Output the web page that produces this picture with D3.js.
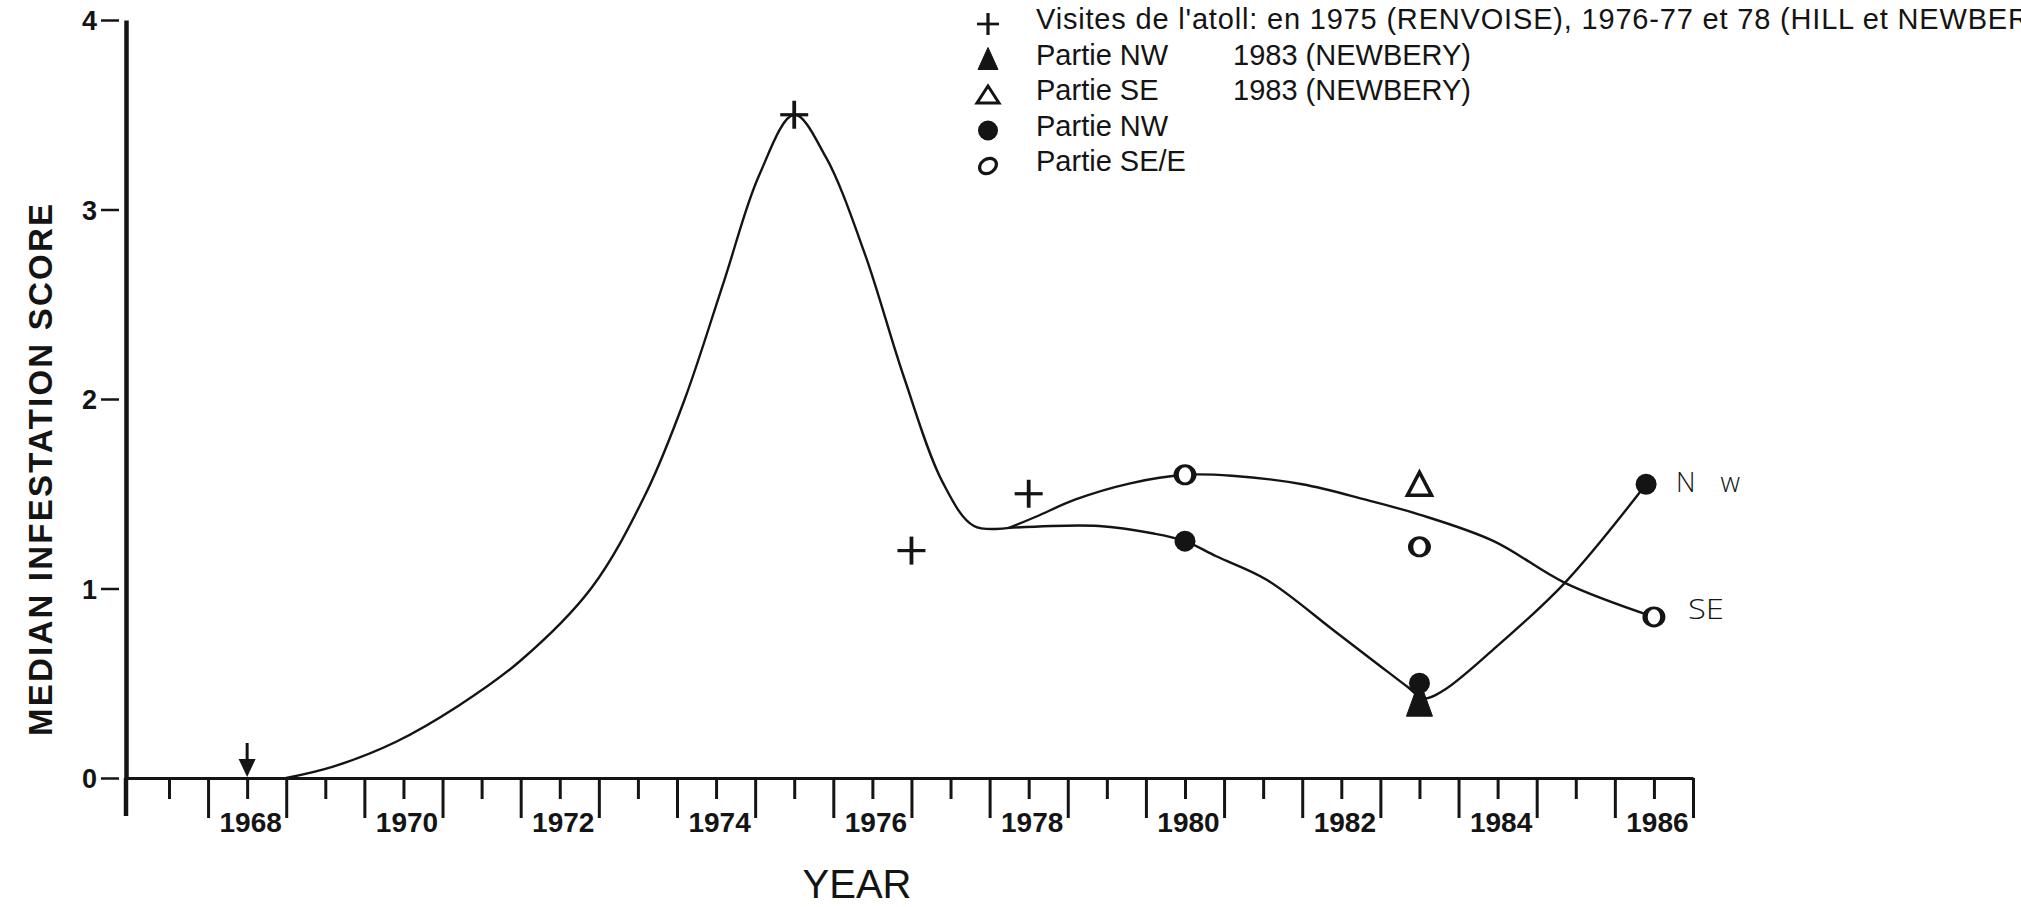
<!DOCTYPE html>
<html>
<head>
<meta charset="utf-8">
<script src="https://cdn.jsdelivr.net/npm/d3@7"></script>
<style>
  html, body { margin: 0; padding: 0; background: #fff; }
  svg { display: block; }
</style>
</head>
<body>
<svg id="chart" width="2021" height="907"></svg>
<script>
// ---- Observations -------------------------------------------------------
// Visits to the atoll (+)
const visitYears  = [1975, 1976.5, 1978];
const visitScores = [3.5, 1.2, 1.5];
// 1983 survey (NEWBERY), triangles
const nwTriangleYears  = [1983];
const nwTriangleScores = [0.4];
const seTriangleYears  = [1983];
const seTriangleScores = [1.55];
// NW part (filled circles) and SE/E part (open circles)
const nwYears  = [1980, 1983, 1985.9];
const nwScores = [1.25, 0.5, 1.55];
const seYears  = [1980, 1983, 1986];
const seScores = [1.6, 1.22, 0.85];
// First record, marked by an arrow on the axis
const firstRecordYears = [1968];

// ---- Hand-fitted trend curves (knots) ------------------------------------
const trendYears  = [1968.5, 1969.1, 1969.9, 1970.7, 1971.5, 1972.4, 1973.1, 1973.6, 1974.1, 1974.55, 1975.0, 1975.4, 1975.9, 1976.4, 1976.9, 1977.3, 1977.75];
const trendScores = [0, 0.06, 0.19, 0.38, 0.62, 1.0, 1.5, 2.0, 2.62, 3.18, 3.5, 3.28, 2.77, 2.12, 1.56, 1.33, 1.32];
const seCurveYears  = [1977.75, 1978.1, 1978.6, 1979.3, 1980.0, 1980.6, 1981.5, 1982.3, 1983.0, 1983.95, 1984.86, 1986.0];
const seCurveScores = [1.32, 1.38, 1.47, 1.555, 1.6, 1.595, 1.55, 1.47, 1.39, 1.25, 1.03, 0.85];
const nwCurveYears  = [1977.75, 1978.9, 1979.6, 1980.0, 1980.4, 1981.05, 1981.9, 1982.5, 1982.85, 1983.05, 1983.3, 1983.95, 1984.86, 1985.9];
const nwCurveScores = [1.32, 1.33, 1.29, 1.25, 1.17, 1.045, 0.78, 0.59, 0.48, 0.42, 0.46, 0.68, 1.03, 1.55];

// ---- Axes ---------------------------------------------------------------
const yTickValues   = [0, 1, 2, 3, 4];
const yearTicks     = d3.range(1967, 1987);           // integer years
const halfYearTicks = d3.range(1967.5, 1987, 1);      // year boundaries
const labelYears    = [1968, 1970, 1972, 1974, 1976, 1978, 1980, 1982, 1984, 1986];
const xTitle = "YEAR";
const yTitle = "MEDIAN  INFESTATION  SCORE";

// ---- Legend -------------------------------------------------------------
const legendSymbols = ["cross", "triangleFilled", "triangleOpen", "dot", "ring"];
const legendLabels  = [
  "Visites de l'atoll: en 1975 (RENVOISE), 1976-77 et 78 (HILL et NEWBERY)",
  "Partie NW",
  "Partie SE",
  "Partie NW",
  "Partie SE/E"
];
const legendNotes = ["", "1983 (NEWBERY)", "1983 (NEWBERY)", "", ""];
const endLabels = ["N w", "SE"];

// ---- Drawing ------------------------------------------------------------
const ink = "#141414";
const sans = "'Liberation Sans', Arial, Helvetica, sans-serif";
const hand = "'Open Sans', 'DejaVu Sans', sans-serif";
const svg = d3.select("#chart");

const x = d3.scaleLinear().domain([1966.45, 1986.5]).range([126, 1693]);
const y = d3.scaleLinear().domain([0, 4]).range([778, 20]);

// y axis
const gy = svg.append("g")
  .attr("transform", `translate(${x(1966.45)},0)`)
  .call(d3.axisLeft(y).tickValues(yTickValues).tickSize(20).tickSizeOuter(0).tickFormat(d3.format("d")));
gy.select(".domain").attr("stroke", ink).attr("stroke-width", 4.5);
gy.selectAll(".tick line").attr("x1", -7).attr("x2", -25).attr("stroke", ink).attr("stroke-width", 2.5);
gy.selectAll(".tick text")
  .attr("x", -29).attr("dy", "0.36em")
  .attr("fill", ink)
  .style("font-family", sans).style("font-size", "27px").style("font-weight", "bold");
// the y axis runs on below the baseline as the first long tick
svg.append("line")
  .attr("x1", x(1966.45)).attr("x2", x(1966.45))
  .attr("y1", y(0)).attr("y2", y(0) + 38)
  .attr("stroke", ink).attr("stroke-width", 4.5);

// x axis: long ticks at year boundaries
const gxMajor = svg.append("g")
  .attr("transform", `translate(0,${y(0)})`)
  .call(d3.axisBottom(x).tickValues(halfYearTicks).tickSize(40).tickSizeOuter(0).tickFormat(""));
gxMajor.select(".domain").attr("stroke", ink).attr("stroke-width", 3);
gxMajor.selectAll(".tick line").attr("stroke", ink).attr("stroke-width", 3);

// x axis: short ticks at each year, labels on even years
const gxMinor = svg.append("g")
  .attr("transform", `translate(0,${y(0)})`)
  .call(d3.axisBottom(x).tickValues(yearTicks).tickSize(21).tickSizeOuter(0)
    .tickFormat(d => labelYears.includes(d) ? String(d) : ""));
gxMinor.select(".domain").remove();
gxMinor.selectAll(".tick line").attr("stroke", ink).attr("stroke-width", 3);
gxMinor.selectAll(".tick text")
  .attr("x", 3).attr("y", 34).attr("dy", "0.71em")
  .attr("fill", ink)
  .style("font-family", sans).style("font-size", "28px").style("font-weight", "bold");

// axis titles
svg.append("text")
  .attr("x", 857).attr("y", 898)
  .attr("text-anchor", "middle")
  .attr("fill", ink)
  .style("font-family", sans).style("font-size", "40px")
  .text(xTitle);
svg.append("text")
  .attr("transform", "translate(52,470) rotate(-90)")
  .attr("text-anchor", "middle")
  .attr("textLength", 532).attr("lengthAdjust", "spacing")
  .attr("fill", ink)
  .style("font-family", sans).style("font-size", "33px").style("font-weight", "bold")
  .text(yTitle);

// trend curves
const line = d3.line()
  .x(d => x(d[0])).y(d => y(d[1]))
  .curve(d3.curveCatmullRom.alpha(0.5));
const curves = svg.append("g").attr("fill", "none").attr("stroke", ink).attr("stroke-width", 2.4)
  .attr("stroke-linejoin", "round").attr("stroke-linecap", "round");
curves.append("path").attr("d", line(d3.zip(trendYears, trendScores)));
curves.append("path").attr("d", line(d3.zip(seCurveYears, seCurveScores)));
curves.append("path").attr("d", line(d3.zip(nwCurveYears, nwCurveScores)));

// marker shapes
function drawCross(g, s, w) {
  g.append("line").attr("x1", -s).attr("x2", s).attr("y1", 0).attr("y2", 0)
    .attr("stroke", ink).attr("stroke-width", w * 0.85);
  g.append("line").attr("x1", 0).attr("x2", 0).attr("y1", -s).attr("y2", s)
    .attr("stroke", ink).attr("stroke-width", w);
}
function drawTriangle(g, hw, top, bottom, filled, w) {
  g.append("path")
    .attr("d", `M0,${-top}L${hw},${bottom}L${-hw},${bottom}Z`)
    .attr("fill", filled ? ink : "none")
    .attr("stroke", ink).attr("stroke-width", w).attr("stroke-linejoin", "miter");
}
function drawDot(g, r) {
  g.append("circle").attr("r", r).attr("fill", ink);
}
function drawRing(g, rx, ry, irx, iry) {
  g.append("ellipse").attr("rx", rx).attr("ry", ry).attr("fill", ink);
  g.append("ellipse").attr("rx", irx).attr("ry", iry).attr("fill", "#fff");
}

// first record arrow
firstRecordYears.forEach(yr => {
  const g = svg.append("g").attr("transform", `translate(${x(yr)},${y(0)})`);
  g.append("line").attr("x1", 0).attr("x2", 0).attr("y1", -35).attr("y2", -8)
    .attr("stroke", ink).attr("stroke-width", 3);
  g.append("path").attr("d", "M0,-1L-8.5,-19L8.5,-19Z").attr("fill", ink);
});

// visits
d3.zip(visitYears, visitScores).forEach(([yr, v]) => {
  drawCross(svg.append("g").attr("transform", `translate(${x(yr)},${y(v)})`), 14, 3.8);
});
// 1983 survey triangles
d3.zip(seTriangleYears, seTriangleScores).forEach(([yr, v]) => {
  drawTriangle(svg.append("g").attr("transform", `translate(${x(yr)},${y(v)})`), 12, 12, 11, false, 3.6);
});
d3.zip(nwTriangleYears, nwTriangleScores).forEach(([yr, v]) => {
  drawTriangle(svg.append("g").attr("transform", `translate(${x(yr)},${y(v)})`), 13, 22, 14, true, 1);
});
// NW filled circles
d3.zip(nwYears, nwScores).forEach(([yr, v]) => {
  drawDot(svg.append("g").attr("transform", `translate(${x(yr)},${y(v)})`), 10.5);
});
// SE/E open circles
d3.zip(seYears, seScores).forEach(([yr, v]) => {
  drawRing(svg.append("g").attr("transform", `translate(${x(yr)},${y(v)})`), 11.5, 10.5, 6.2, 7.6);
});

// hand-written end labels
svg.append("text")
  .attr("x", x(nwYears[2]) + 30).attr("y", y(nwScores[2]) + 8)
  .attr("textLength", 64).attr("lengthAdjust", "spacing")
  .attr("fill", ink)
  .style("font-family", hand).style("font-size", "27px").style("font-weight", 300)
  .text(endLabels[0]);
svg.append("text")
  .attr("x", x(seYears[2]) + 34).attr("y", y(seScores[2]) + 2)
  .attr("textLength", 36).attr("lengthAdjust", "spacingAndGlyphs")
  .attr("fill", ink)
  .style("font-family", hand).style("font-size", "27px").style("font-weight", 300)
  .text(endLabels[1]);

// legend
const legX = 988, legTextX = 1036, legNoteX = 1233, legTop = 29, legStep = 35.5;
legendLabels.forEach((label, i) => {
  const base = legTop + i * legStep;
  const m = svg.append("g").attr("transform", `translate(${legX},${base - 5})`);
  switch (legendSymbols[i]) {
    case "cross": drawCross(m, 11, 3.2); break;
    case "triangleFilled": drawTriangle(m, 10, 12, 10, true, 1); break;
    case "triangleOpen": drawTriangle(m, 11, 9, 8, false, 3); break;
    case "dot": drawDot(m, 10); break;
    case "ring":
      m.append("ellipse").attr("rx", 9).attr("ry", 7)
        .attr("transform", "rotate(-35)")
        .attr("fill", "none").attr("stroke", ink).attr("stroke-width", 3.2);
      break;
  }
  const t = svg.append("text")
    .attr("x", legTextX).attr("y", base)
    .attr("fill", ink)
    .style("font-family", sans).style("font-size", "29px")
    .text(label);
  if (i === 0) {
    // spread the long first line so that it runs off the right edge
    const cut = label.indexOf("NEWBERY") + 5;
    const w = t.node().getSubStringLength(0, cut);
    const ls = Math.max(0, (2008 - legTextX - w) / cut);
    t.style("letter-spacing", ls + "px");
  }
  if (legendNotes[i]) {
    svg.append("text")
      .attr("x", legNoteX).attr("y", base)
      .attr("fill", ink)
      .style("font-family", sans).style("font-size", "29px")
      .text(legendNotes[i]);
  }
});
</script>
</body>
</html>
